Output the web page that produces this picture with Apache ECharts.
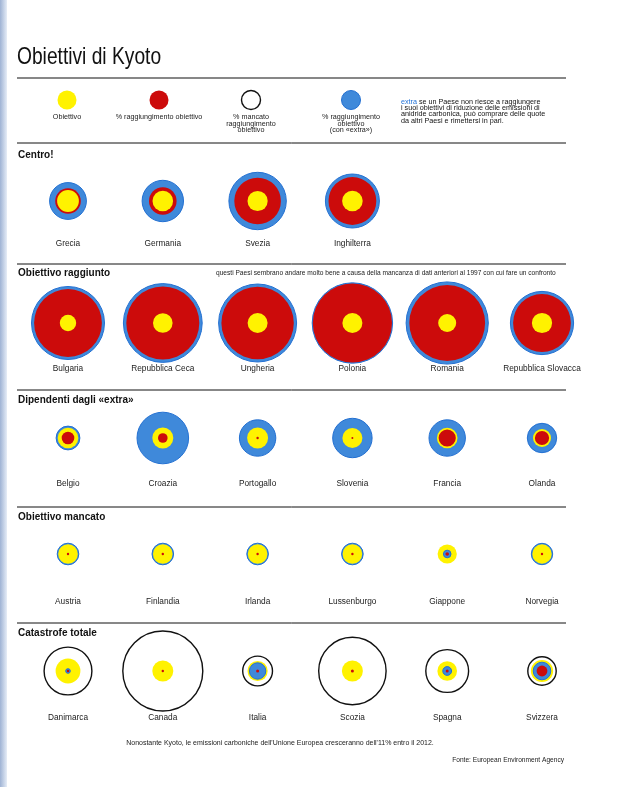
<!DOCTYPE html>
<html><head><meta charset="utf-8">
<script src="https://cdn.jsdelivr.net/npm/echarts@6/dist/echarts.min.js"></script>
<style>html,body{margin:0;padding:0;background:#fff}#c{width:640px;height:787px}</style>
</head><body><div id="c"></div>
<script>
// ---------------- DATA (radii) ----------------
const centroPaesi = ['Grecia', 'Germania', 'Svezia', 'Inghilterra'];
const centroObiettivo = [10.9, 10.3, 10.1, 10.3];
const centroRaggiungimento = [12.8, 13.8, 23.3, 23.9];
const centroExtra = [18.4, 20.7, 28.7, 27.0];
const centroMancato = [0, 0, 0, 0];

const raggiuntoPaesi = ['Bulgaria', 'Repubblica Ceca', 'Ungheria', 'Polonia', 'Romania', 'Repubblica Slovacca'];
const raggiuntoObiettivo = [8.2, 9.8, 10.0, 10.0, 9.0, 10.1];
const raggiuntoRaggiungimento = [33.9, 36.5, 36.2, 39.6, 37.9, 28.9];
const raggiuntoExtra = [36.5, 39.4, 39.0, 40.2, 41.1, 31.6];
const raggiuntoMancato = [0, 0, 0, 0, 0, 0];

const dipendentiPaesi = ['Belgio', 'Croazia', 'Portogallo', 'Slovenia', 'Francia', 'Olanda'];
const dipendentiObiettivo = [10.3, 10.5, 10.5, 10.0, 10.3, 9.0];
const dipendentiRaggiungimento = [6.3, 4.8, 1.2, 1.0, 8.6, 7.1];
const dipendentiExtra = [11.9, 25.8, 18.2, 19.7, 18.2, 14.7];
const dipendentiMancato = [0, 0, 0, 0, 0, 0];

const mancatoPaesi = ['Austria', 'Finlandia', 'Irlanda', 'Lussenburgo', 'Giappone', 'Norvegia'];
const mancatoObiettivo = [9.8, 9.8, 9.8, 9.8, 9.6, 9.7];
const mancatoRaggiungimento = [1.2, 1.2, 1.2, 1.2, 1.8, 1.2];
const mancatoExtra = [10.8, 10.8, 10.8, 10.8, 3.8, 10.7];
const mancatoMancato = [0, 0, 0, 0, 0, 0];

const catastrofePaesi = ['Danimarca', 'Canada', 'Italia', 'Scozia', 'Spagna', 'Svizzera'];
const catastrofeObiettivo = [12.4, 10.5, 10.1, 10.5, 9.8, 11.1];
const catastrofeRaggiungimento = [1.2, 1.2, 1.5, 1.5, 1.5, 5.4];
const catastrofeExtra = [2.3, 0, 8.2, 0, 4.4, 8.8];
const catastrofeMancato = [23.9, 40.0, 14.9, 33.7, 21.4, 14.2];

const sectionTitles = ['Centro!', 'Obiettivo raggiunto', 'Dipendenti dagli «extra»', 'Obiettivo mancato', 'Catastrofe totale'];
const legendLabels = ['Obiettivo', '% raggiungimento obiettivo', '% mancato\nraggiungimento\nobiettivo', '% raggiungimento\nobiettivo\n(con «extra»)'];

// ---------------- STYLE / LAYOUT ----------------
const COL = {
  obiettivo: { color: '#fff200' },
  raggiungimento: { color: '#cc0b0b' },
  extra: { color: '#3f89da', borderColor: '#2370d2', borderWidth: 1 },
  mancato: { color: '#ffffff', borderColor: '#111111', borderWidth: 1.4 }
};
const sections = [
  { paesi: centroPaesi, obiettivo: centroObiettivo, raggiungimento: centroRaggiungimento, extra: centroExtra, mancato: centroMancato, cy: 201, lineY: 143, titleY: 155, margin: 19 },
  { paesi: raggiuntoPaesi, obiettivo: raggiuntoObiettivo, raggiungimento: raggiuntoRaggiungimento, extra: raggiuntoExtra, mancato: raggiuntoMancato, cy: 323, lineY: 264, titleY: 273, margin: 22 },
  { paesi: dipendentiPaesi, obiettivo: dipendentiObiettivo, raggiungimento: dipendentiRaggiungimento, extra: dipendentiExtra, mancato: dipendentiMancato, cy: 438, lineY: 390, titleY: 400, margin: 22 },
  { paesi: mancatoPaesi, obiettivo: mancatoObiettivo, raggiungimento: mancatoRaggiungimento, extra: mancatoExtra, mancato: mancatoMancato, cy: 554, lineY: 507, titleY: 517, margin: 24 },
  { paesi: catastrofePaesi, obiettivo: catastrofeObiettivo, raggiungimento: catastrofeRaggiungimento, extra: catastrofeExtra, mancato: catastrofeMancato, cy: 671, lineY: 623, titleY: 633, margin: 23 }
];
const BAND = 94.8, LEFT = 20.6, HALF = 20;
const FONT = '"Liberation Sans", "DejaVu Sans", sans-serif';

const grids = [], xAxes = [], yAxes = [], series = [];
sections.forEach((s, g) => {
  grids.push({ left: LEFT, top: s.cy - HALF, width: BAND * s.paesi.length, height: HALF * 2 });
  xAxes.push({
    type: 'category', gridIndex: g, data: s.paesi,
    axisLine: { show: false }, axisTick: { show: false }, splitLine: { show: false },
    axisLabel: { margin: s.margin, fontSize: 8.3, color: '#222', fontFamily: FONT, interval: 0 }
  });
  yAxes.push({ type: 'value', gridIndex: g, min: -1, max: 1, show: false });
  const stacks = s.paesi.map((p, i) => {
    const c = [];
    ['mancato', 'extra', 'raggiungimento', 'obiettivo'].forEach(k => {
      if (s[k][i] > 0) c.push({ k, r: s[k][i] });
    });
    return c.sort((a, b) => b.r - a.r);
  });
  const maxDepth = Math.max(...stacks.map(c => c.length));
  for (let d = 0; d < maxDepth; d++) {
    const data = [];
    stacks.forEach((c, i) => {
      if (c[d]) data.push({ value: [i, 0, c[d].r], itemStyle: Object.assign({ opacity: 1 }, COL[c[d].k]) });
    });
    series.push({
      type: 'scatter', xAxisIndex: g, yAxisIndex: g, data, clip: false,
      symbol: 'circle', symbolSize: v => v[2] * 2, z: 2 + d, silent: true, animation: false
    });
  }
});

// ---------------- DECORATION / TEXT ----------------
const gr = [];
gr.push({ type: 'rect', shape: { x: 0, y: 0, width: 7, height: 787 }, style: { fill: { type: 'linear', x: 0, y: 0, x2: 1, y2: 0, colorStops: [{ offset: 0, color: '#9fb3d4' }, { offset: 1, color: '#e6edf7' }] } }, z: 0 });
gr.push({ type: 'text', x: 17, y: 57, scaleX: 0.8, style: { text: 'Obiettivi di Kyoto', font: '24px ' + FONT, fill: '#111', textVerticalAlign: 'middle' } });
gr.push({ type: 'line', shape: { x1: 17, y1: 78, x2: 566, y2: 78 }, style: { stroke: '#111', lineWidth: 1.2 } });
const lg = [
  { x: 67, k: 'obiettivo' }, { x: 159, k: 'raggiungimento' }, { x: 251, k: 'mancato' }, { x: 351, k: 'extra' }
];
lg.forEach((l, i) => {
  const st = COL[l.k];
  gr.push({ type: 'circle', shape: { cx: l.x, cy: 100, r: 9.5 }, style: { fill: st.color, stroke: st.borderColor || null, lineWidth: st.borderWidth || 0 } });
  gr.push({ type: 'text', x: l.x, y: 114, style: { text: legendLabels[i], font: '7.2px ' + FONT, fill: '#222', textAlign: 'center', textVerticalAlign: 'top', lineHeight: 6.6 } });
});
gr.push({ type: 'text', x: 401, y: 98.5, style: {
  text: '{b|extra} se un Paese non riesce a raggiungere\ni suoi obiettivi di riduzione delle emissioni di\nanidride carbonica, può comprare delle quote\nda altri Paesi e rimettersi in pari.',
  font: '7.2px ' + FONT, fill: '#111', textVerticalAlign: 'top', lineHeight: 6.4,
  rich: { b: { fill: '#1d6fd6', font: '7.2px ' + FONT } }
} });
sections.forEach((s, g) => {
  gr.push({ type: 'line', shape: { x1: 17, y1: s.lineY, x2: 566, y2: s.lineY }, style: { stroke: '#111', lineWidth: 1 } });
  gr.push({ type: 'text', x: 18, y: s.titleY, style: { text: sectionTitles[g], font: 'bold 10px ' + FONT, fill: '#111', textVerticalAlign: 'middle' } });
});
gr.push({ type: 'text', x: 216, y: 273, style: { text: 'questi Paesi sembrano andare molto bene a causa della mancanza di dati anteriori al 1997 con cui fare un confronto', font: '6.6px ' + FONT, fill: '#222', textVerticalAlign: 'middle' } });
gr.push({ type: 'text', x: 280, y: 743, style: { text: "Nonostante Kyoto, le emissioni carboniche dell'Unione Europea cresceranno dell'11% entro il 2012.", font: '7px ' + FONT, fill: '#222', textAlign: 'center', textVerticalAlign: 'middle' } });
gr.push({ type: 'text', x: 564, y: 760, style: { text: 'Fonte: European Environment Agency', font: '6.6px ' + FONT, fill: '#222', textAlign: 'right', textVerticalAlign: 'middle' } });

const chart = echarts.init(document.getElementById('c'), null, { renderer: 'canvas' });
chart.setOption({
  animation: false,
  backgroundColor: '#ffffff',
  grid: grids, xAxis: xAxes, yAxis: yAxes, series,
  graphic: gr
});
</script></body></html>
